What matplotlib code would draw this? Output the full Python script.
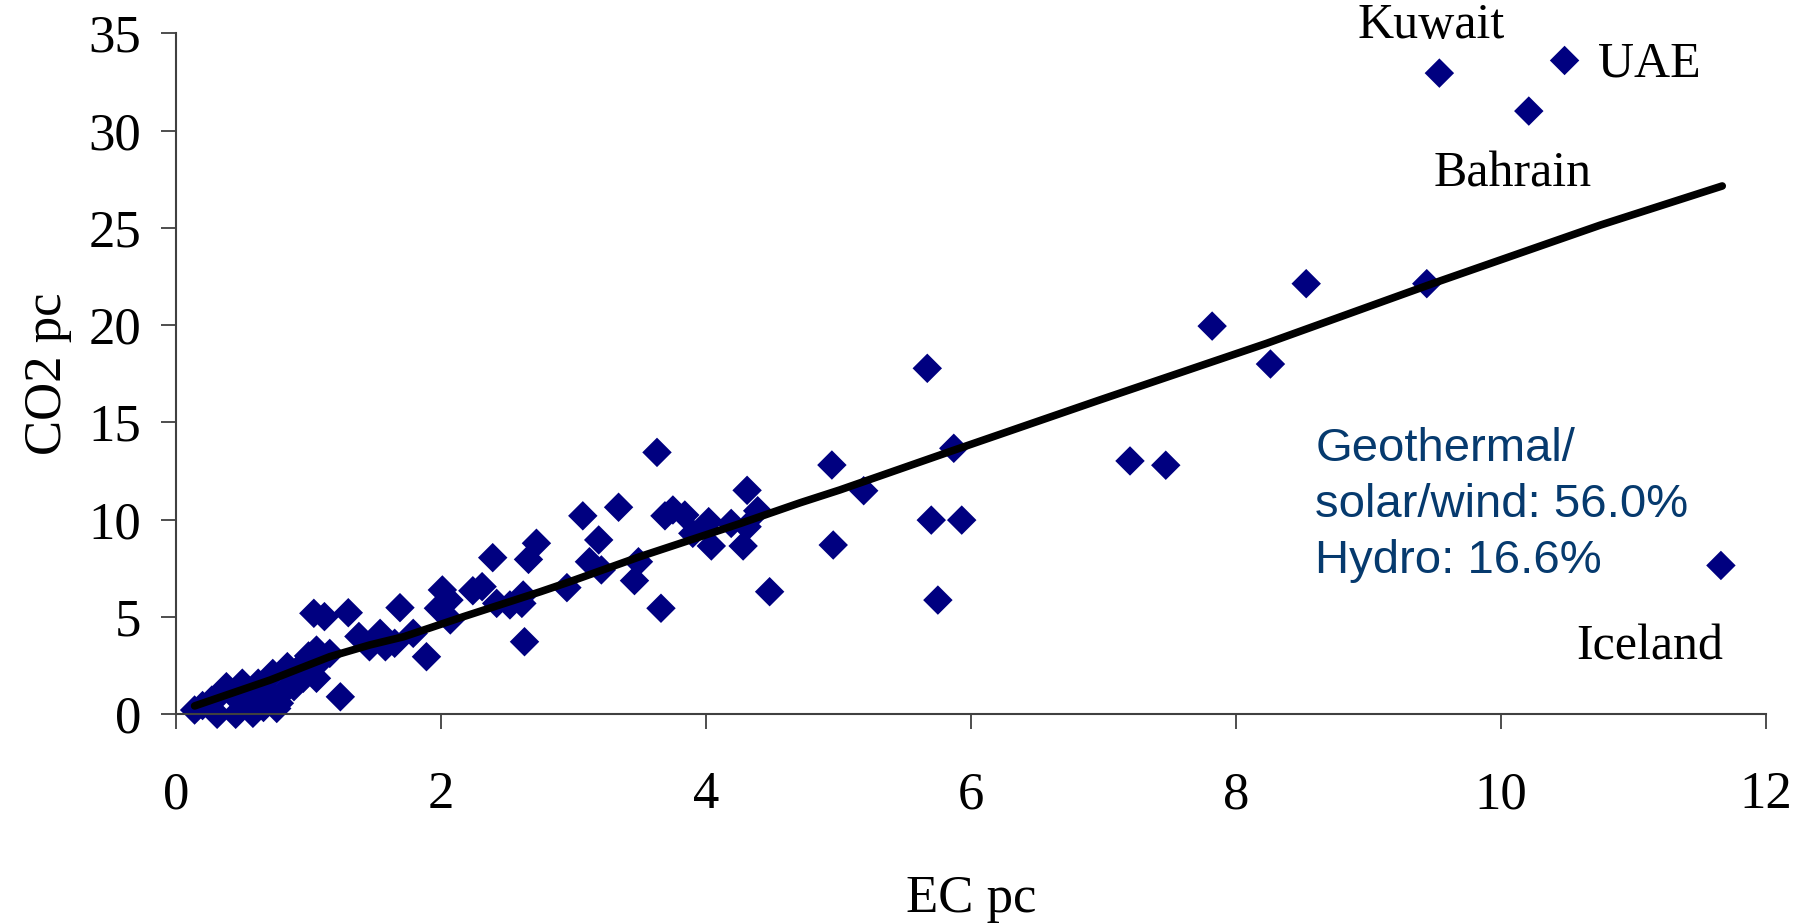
import matplotlib
matplotlib.use('Agg')
import matplotlib.pyplot as plt

# ── Data ───────────────────────────────────────────────────────────────────
ec_pc = [0.14, 0.20, 0.27, 0.31, 0.33, 0.38, 0.45, 0.47, 0.50, 0.55,
         0.58, 0.61, 0.62, 0.66, 0.71, 0.73, 0.76, 0.78, 0.83, 0.84,
         0.89, 0.92, 0.96, 0.98, 1.00, 1.04, 1.06, 1.06, 1.11, 1.12,
         1.16, 1.24, 1.30, 1.38, 1.46, 1.54, 1.58, 1.65, 1.69, 1.79,
         1.89, 1.98, 2.01, 2.06, 2.07, 2.24, 2.31, 2.39, 2.42, 2.52,
         2.61, 2.62, 2.63, 2.66, 2.72, 2.95, 3.07, 3.12, 3.19, 3.21,
         3.34, 3.46, 3.49, 3.63, 3.66, 3.69, 3.75, 3.84, 3.90, 4.02,
         4.04, 4.19, 4.28, 4.31, 4.31, 4.39, 4.48, 4.95, 4.96, 5.19,
         5.67, 5.70, 5.75, 5.87, 5.93, 7.20, 7.47, 7.82, 8.26, 8.53,
         9.44, 9.535, 10.21, 10.48, 11.66]
co2_pc = [0.22, 0.45, 0.73, 0.0, 1.0, 1.42, 0.0, 0.73, 1.6, 1.2,
          0.05, 0.73, 1.6, 0.35, 1.08, 2.1, 0.3, 0.57, 1.3, 2.45,
          1.42, 2.3, 1.85, 2.7, 3.0, 5.19, 3.3, 1.85, 2.88, 5.02,
          3.13, 0.9, 5.22, 4.0, 3.47, 4.16, 3.47, 3.65, 5.48, 4.16,
          2.96, 5.45, 6.39, 5.87, 4.85, 6.35, 6.56, 8.05, 5.7, 5.62,
          5.7, 6.13, 3.73, 7.96, 8.79, 6.51, 10.2, 7.84, 8.96, 7.42,
          10.64, 6.87, 7.84, 13.46, 5.45, 10.2, 10.5, 10.24, 9.3, 9.9,
          8.65, 9.81, 8.65, 9.64, 11.51, 10.46, 6.30, 12.81, 8.70, 11.49,
          17.78, 9.98, 5.87, 13.67, 9.98, 13.02, 12.8, 19.95, 18.0, 22.13,
          22.13, 32.95, 31.0, 33.6, 7.65]

# fitted curve
fit_x = [0.14, 0.71, 1.16, 1.46, 1.72, 2.17, 2.75, 2.97, 3.50, 4.26,
         4.71, 5.01, 5.84, 6.97, 8.23, 9.49, 10.75, 11.67]
fit_y = [0.43, 1.76, 2.96, 3.56, 3.99, 5.02, 6.30, 6.81, 8.10, 9.81,
         10.87, 11.53, 13.50, 16.15, 19.06, 22.15, 25.14, 27.15]

X_TICKS = [0, 2, 4, 6, 8, 10, 12]
Y_TICKS = [0, 5, 10, 15, 20, 25, 30, 35]

SERIF = "Liberation Serif"
SANS = "Liberation Sans"

fig = plt.figure(figsize=(18.02, 9.23), dpi=100)
ax = fig.add_axes([0.0977, 0.2261, 0.8823, 0.7379])

ax.scatter(ec_pc, co2_pc, marker="D", s=15 ** 2, color="#000080",
           edgecolors="none", zorder=2, clip_on=False)
ax.plot(fit_x, fit_y, color="black", lw=5.5, solid_capstyle="round",
        solid_joinstyle="round", zorder=3)

ax.set_xlim(0, 12)
ax.set_ylim(0, 35)
ax.set_xticks(X_TICKS)
ax.set_yticks(Y_TICKS)
ax.set_xticklabels([str(v) for v in X_TICKS], fontfamily=SERIF, fontsize=38)
ax.set_yticklabels([str(v) for v in Y_TICKS], fontfamily=SERIF, fontsize=38)
ax.tick_params(axis="x", direction="out", length=11, width=1.3,
               color="#404040", pad=30)
ax.tick_params(axis="y", direction="out", length=11, width=1.3,
               color="#404040", pad=14)

for side in ["top", "right"]:
    ax.spines[side].set_visible(False)
for side in ["left", "bottom"]:
    ax.spines[side].set_color("#404040")
    ax.spines[side].set_linewidth(1.5)

ax.set_xlabel("EC pc", fontfamily=SERIF, fontsize=38, labelpad=40)
ax.set_ylabel("CO2 pc", fontfamily=SERIF, fontsize=38, labelpad=12)

# ── Annotations ────────────────────────────────────────────────────────────
ax.text(9.47, 34.75, "Kuwait", fontfamily=SERIF, fontsize=36,
        ha="center", va="baseline", clip_on=False)
ax.text(10.73, 32.8, "UAE", fontfamily=SERIF, fontsize=36,
        ha="left", va="baseline", clip_on=False)
ax.text(9.49, 27.1, "Bahrain", fontfamily=SERIF, fontsize=36,
        ha="left", va="baseline", clip_on=False)
ax.text(10.57, 2.8, "Iceland", fontfamily=SERIF, fontsize=36,
        ha="left", va="baseline", clip_on=False)
ax.text(8.60, 14.75, "Geothermal/\nsolar/wind: 56.0%\nHydro: 16.6%",
        fontfamily=SANS, fontsize=34, color="#063a6e",
        ha="left", va="top", linespacing=1.35)

fig.savefig("out.png", dpi=100)
plt.close()
